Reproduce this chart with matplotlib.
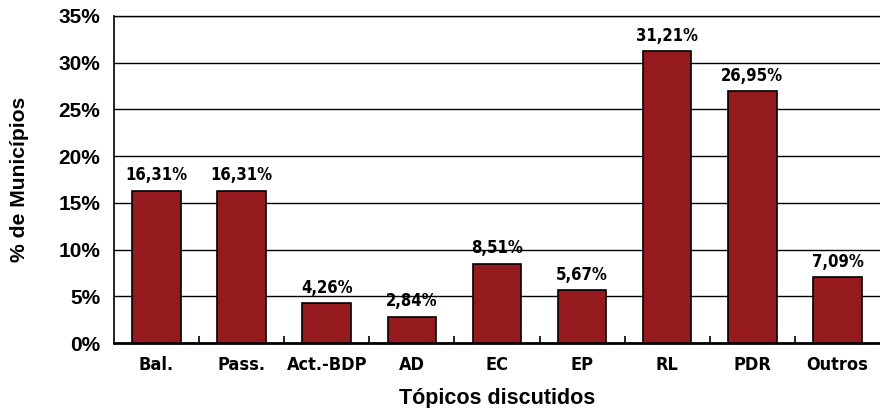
import numpy as np
import matplotlib
matplotlib.use("Agg")
import matplotlib.pyplot as plt
from matplotlib.ticker import FuncFormatter, FixedLocator

categorias = ["Bal.", "Pass.", "Act.-BDP", "AD", "EC", "EP", "RL", "PDR", "Outros"]
valores = [16.31, 16.31, 4.26, 2.84, 8.51, 5.67, 31.21, 26.95, 7.09]
rotulos = ["16,31%", "16,31%", "4,26%", "2,84%", "8,51%", "5,67%", "31,21%", "26,95%", "7,09%"]

narrow = ["DejaVu Sans", "Liberation Sans"]
wide = ["Liberation Sans", "DejaVu Sans"]

fig = plt.figure(figsize=(8.8, 4.08), dpi=100)
ax = fig.add_axes([0.1295, 0.159, 0.8705, 0.802])

x = np.arange(len(categorias))
ax.bar(x, valores, width=0.57, color="#951A1E", edgecolor="black", linewidth=1.2, zorder=3)

for xi, v, t in zip(x, valores, rotulos):
    ax.annotate(t, xy=(xi, v), xytext=(0, 4.5), textcoords="offset points",
                ha="center", va="bottom", fontsize=12, fontweight="bold",
                family=narrow, fontstretch="condensed", zorder=4)

ax.set_xlim(-0.5, len(categorias) - 0.5)
ax.set_ylim(0, 35)
ax.set_yticks(np.arange(0, 36, 5))
ax.yaxis.set_major_formatter(FuncFormatter(lambda v, p: f"{int(v)}%"))
ax.grid(axis="y", color="black", linewidth=1.0, zorder=0)

ax.set_xticks(x)
ax.set_xticklabels(categorias)
ax.xaxis.set_minor_locator(FixedLocator(np.arange(0.5, len(categorias) - 0.5, 1)))
ax.tick_params(axis="x", which="major", length=0, pad=9)
ax.tick_params(axis="x", which="minor", direction="in", length=5, width=1.2)
ax.tick_params(axis="y", length=0, pad=10)

for lab in ax.get_xticklabels():
    lab.set_family(narrow)
    lab.set_fontstretch("condensed")
    lab.set_fontweight("bold")
    lab.set_fontsize(13)
for lab in ax.get_yticklabels():
    lab.set_family(wide)
    lab.set_fontweight("bold")
    lab.set_fontsize(15)

ax.spines["right"].set_visible(False)
ax.spines["top"].set_linewidth(1.0)
ax.spines["left"].set_linewidth(1.2)
ax.spines["bottom"].set_linewidth(2.0)

ax.set_xlabel("Tópicos discutidos", fontsize=15.5, fontweight="bold", family=wide, labelpad=10)
ax.set_ylabel("% de Municípios", fontsize=15.2, fontweight="bold", family=wide, labelpad=21)

fig.savefig("out.png", dpi=100)
